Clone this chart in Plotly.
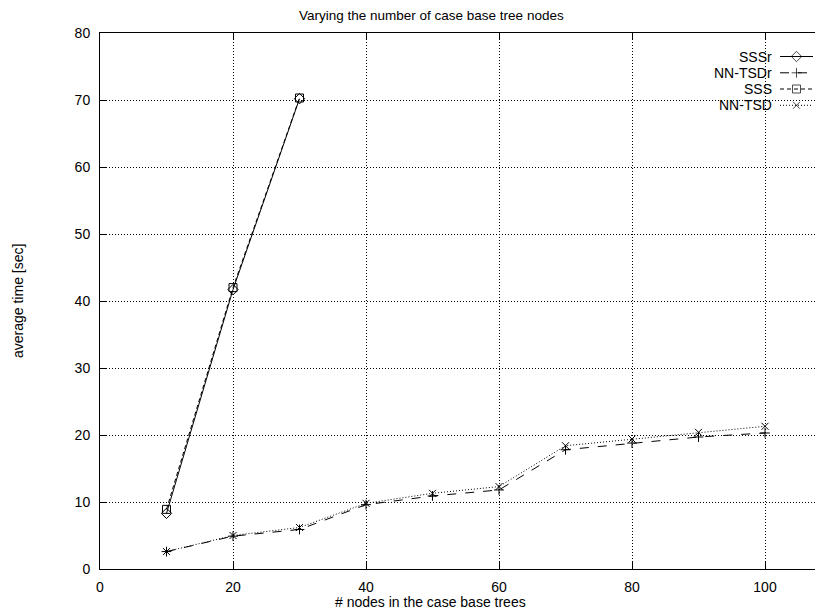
import plotly.graph_objects as go

# ---- data ----
x_sssr = [10, 20, 30]
y_sssr = [8.3, 41.7, 70.2]
x_sss = [10, 20, 30]
y_sss = [8.9, 42.0, 70.3]
x_nn = [10, 20, 30, 40, 50, 60, 70, 80, 90, 100]
y_nntsdr = [2.6, 4.9, 5.9, 9.6, 10.9, 11.8, 17.8, 18.8, 19.7, 20.3]
y_nntsd = [2.6, 5.0, 6.2, 9.8, 11.3, 12.3, 18.4, 19.4, 20.4, 21.3]

x_ticks = [0, 20, 40, 60, 80, 100]
y_ticks = [0, 10, 20, 30, 40, 50, 60, 70, 80]

series = [
    ("SSSr", x_sssr, y_sssr, "solid", "diamond-open", 8),
    ("NN-TSDr", x_nn, y_nntsdr, "dash", "cross-thin-open", 7),
    ("SSS", x_sss, y_sss, "4px,3px", "square-open", 8),
    ("NN-TSD", x_nn, y_nntsd, "1px,2px", "x-thin-open", 7),
]

FONT = "Liberation Sans, Arial, Helvetica, sans-serif"
OFF = 8  # page body margin
W, H = 823 - OFF, 613 - OFF
L, R, T, B = 100 - OFF, 0, 33 - OFF, 44
pw, ph = W - L - R, H - T - B

fig = go.Figure()
for name, xs, ys, dash, sym, ms in series:
    fig.add_trace(go.Scatter(
        x=xs, y=ys, mode="lines+markers", name=name, showlegend=False,
        line=dict(color="black", width=1, dash=dash),
        marker=dict(symbol=sym, size=ms, color="black", line=dict(color="black", width=1)),
    ))

# page pixel -> paper fraction
def px2fx(px):
    return (px - OFF - L) / pw

def py2fy(py):
    return (H - B - (py - OFF)) / ph

# legend emulation (gnuplot style: text then sample on the right)
row_y = [56.5, 72.8, 89.0, 105.3]
for (name, xs, ys, dash, sym, ms), ry in zip(series, row_y):
    fy = py2fy(ry)
    fig.add_trace(go.Scatter(
        x=[px2fx(780), px2fx(796.5), px2fx(813)], y=[fy, fy, fy],
        xaxis="x3", yaxis="y3", mode="lines+markers", showlegend=False,
        hoverinfo="skip",
        line=dict(color="black", width=1, dash=dash),
        marker=dict(symbol=sym, size=[0, ms, 0], color="black",
                    line=dict(color="black", width=1)),
    ))
    fig.add_annotation(text=name, xref="paper", yref="paper",
                       x=px2fx(774), y=fy, xanchor="right", yanchor="middle",
                       showarrow=False, font=dict(family=FONT, size=14, color="black"))

# invisible trace for top mirrored axis
fig.add_trace(go.Scatter(x=[0], y=[0], xaxis="x2", yaxis="y", mode="markers",
                         marker=dict(opacity=0), showlegend=False, hoverinfo="skip"))

xr = [0, pw / 6.65]
axis_common = dict(
    showline=True, linecolor="black", linewidth=1,
    ticks="inside", ticklen=7, tickcolor="black", tickwidth=1,
    showgrid=True, gridcolor="black", gridwidth=1, griddash="1px,2px",
    zeroline=False,
    tickfont=dict(family=FONT, size=14, color="black"),
)
fig.update_layout(
    width=W, height=H,
    margin=dict(l=L, r=R, t=T, b=B, autoexpand=False),
    plot_bgcolor="white", paper_bgcolor="white",
    showlegend=False,
    xaxis=dict(range=xr, tickvals=x_ticks, ticklabelstandoff=5, **axis_common),
    yaxis=dict(range=[0, 80], tickvals=y_ticks, ticklabelstandoff=6, **axis_common),
    xaxis2=dict(range=xr, overlaying="x", side="top", tickvals=x_ticks,
                showticklabels=False, showline=True, linecolor="black",
                ticks="inside", ticklen=7, tickcolor="black", showgrid=False,
                zeroline=False),
    xaxis3=dict(range=[0, 1], overlaying="x", visible=False, showgrid=False),
    yaxis3=dict(range=[0, 1], overlaying="y", visible=False, showgrid=False,
                anchor="x3"),
)

fig.add_annotation(text="Varying the number of case base tree nodes",
                   xref="paper", yref="paper", x=px2fx(431), y=py2fy(15.5),
                   xanchor="center", yanchor="middle", showarrow=False,
                   font=dict(family=FONT, size=13.5, color="black"))
fig.add_annotation(text="# nodes in the case base trees",
                   xref="paper", yref="paper", x=px2fx(430), y=py2fy(601.5),
                   xanchor="center", yanchor="middle", showarrow=False,
                   font=dict(family=FONT, size=14, color="black"))
fig.add_annotation(text="average time [sec]",
                   xref="paper", yref="paper", x=px2fx(18), y=py2fy(301),
                   xanchor="center", yanchor="middle", showarrow=False, textangle=-90,
                   font=dict(family=FONT, size=14, color="black"))

fig.write_html("out.html")
